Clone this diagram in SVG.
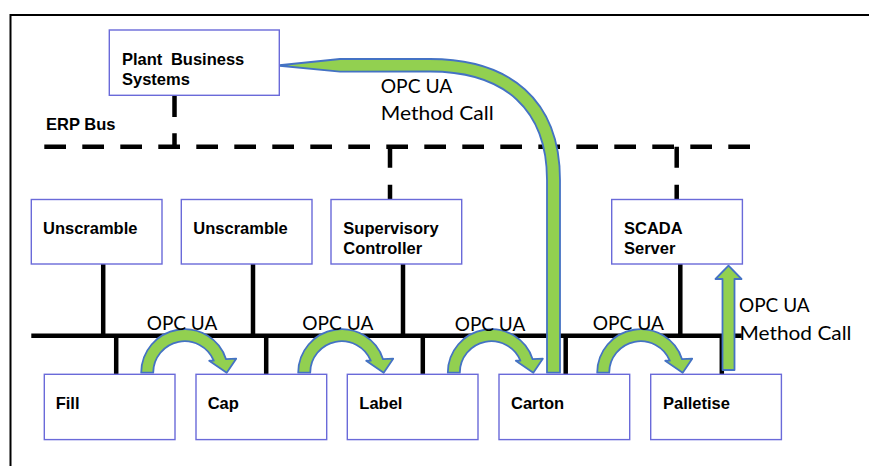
<svg xmlns="http://www.w3.org/2000/svg" width="869" height="466" viewBox="0 0 869 466">
  <style>
    .box { fill: #ffffff; stroke: #6a6ad9; stroke-width: 1.4; }
    .lbl { font-family: "Liberation Sans", Arial, sans-serif; font-weight: bold; font-size: 16.5px; fill: #000; }
    .opc { font-family: Lato, "Open Sans", sans-serif; font-size: 20px; fill: #000; }
    .bus { stroke: #000; stroke-width: 4.5; fill: none; }
    .dash { stroke: #000; stroke-width: 4.5; fill: none; stroke-dasharray: 21.7 16.3; }
    .green { fill: #92D050; stroke: #4472C4; stroke-width: 1.8; stroke-linejoin: round; }
  </style>
  <defs>
    <path id="arc" d="M -43.5,0 A 43.5 43.5 0 0 1 41.35,-13.5 L 51.5,-14 L 42,0 L 24.5,-12 L 29.1,-12 A 31.5 31.5 0 0 0 -31.5,0 Z"/>
  </defs>
  <rect width="869" height="466" fill="#ffffff"/>
  <g id="frame">
    <path d="M 10.5,480 L 10.5,15 L 880,15" fill="none" stroke="#000" stroke-width="2"/>
  </g>
  <g id="connectors">
    <line class="dash" x1="44.3" y1="146.7" x2="750.7" y2="146.7"/>
    <line class="dash" x1="174.5" y1="95.3" x2="174.5" y2="146.7"/>
    <line class="dash" x1="390" y1="146.7" x2="390" y2="199.5" style="stroke-dasharray:21 17"/>
    <line class="dash" x1="676.7" y1="146.7" x2="676.7" y2="199.5" style="stroke-dasharray:21 17"/>
    <line class="bus" x1="31.3" y1="335.7" x2="741.7" y2="335.7"/>
    <line class="bus" x1="103.2" y1="264" x2="103.2" y2="335.7"/>
    <line class="bus" x1="253" y1="264" x2="253" y2="335.7"/>
    <line class="bus" x1="403" y1="264" x2="403" y2="335.7"/>
    <line class="bus" x1="680.3" y1="264" x2="680.3" y2="335.7"/>
    <line class="bus" x1="116.2" y1="335.7" x2="116.2" y2="374.3"/>
    <line class="bus" x1="266.2" y1="335.7" x2="266.2" y2="374.3"/>
    <line class="bus" x1="422.8" y1="335.7" x2="422.8" y2="374.3"/>
    <line class="bus" x1="565.7" y1="335.7" x2="565.7" y2="374.3"/>
    <line class="bus" x1="721.8" y1="335.7" x2="721.8" y2="374.3"/>
    <use href="#arc" class="green" transform="translate(184.7,372.7)"/>
    <use href="#arc" class="green" transform="translate(341.7,372.7)"/>
    <use href="#arc" class="green" transform="translate(491.3,372.7)"/>
    <use href="#arc" class="green" transform="translate(640.7,372.7)"/>
    <path class="green" d="M 277,65.5 L 340,59 L 430,59 C 510,59 560,100 560,180 L 560,372.7 L 547,372.7 L 547,180 C 547,110 505,71.5 430,71.5 L 340,71.7 Z"/>
    <path class="green" d="M 722.5,370 L 722.5,279 L 715.5,279 L 728.5,265.7 L 741.5,279 L 734.5,279 L 734.5,370 Z"/>
    <text class="opc" x="146.7" y="330" textLength="70.6" lengthAdjust="spacingAndGlyphs">OPC UA</text>
    <text class="opc" x="302.3" y="330" textLength="71" lengthAdjust="spacingAndGlyphs">OPC UA</text>
    <text class="opc" x="454.7" y="330.5" textLength="70.6" lengthAdjust="spacingAndGlyphs">OPC UA</text>
    <text class="opc" x="592.7" y="329.5" textLength="71.3" lengthAdjust="spacingAndGlyphs">OPC UA</text>
    <text class="opc" x="739" y="311.7" textLength="70.7" lengthAdjust="spacingAndGlyphs">OPC UA</text>
    <text class="opc" x="739.5" y="340" textLength="112" lengthAdjust="spacingAndGlyphs">Method Call</text>
    <text class="opc" x="380.7" y="92.7" textLength="71.6" lengthAdjust="spacingAndGlyphs">OPC UA</text>
    <text class="opc" x="380.7" y="120" textLength="113" lengthAdjust="spacingAndGlyphs">Method Call</text>
  </g>
  <text class="lbl" x="46" y="130">ERP Bus</text>
  <g id="plant">
    <rect class="box" x="109.3" y="30" width="170" height="65.3"/>
    <text class="lbl" x="122" y="65" word-spacing="4">Plant Business</text>
    <text class="lbl" x="122" y="85">Systems</text>
  </g>
  <g id="unscramble1">
    <rect class="box" x="31.3" y="199.5" width="130.7" height="64.5"/>
    <text class="lbl" x="43" y="233.5">Unscramble</text>
  </g>
  <g id="unscramble2">
    <rect class="box" x="181.3" y="199.5" width="130.7" height="64.5"/>
    <text class="lbl" x="193.3" y="233.5">Unscramble</text>
  </g>
  <g id="supervisory">
    <rect class="box" x="331" y="199.5" width="130.7" height="64.5"/>
    <text class="lbl" x="343.3" y="233.5">Supervisory</text>
    <text class="lbl" x="343.3" y="254">Controller</text>
  </g>
  <g id="scada">
    <rect class="box" x="611.7" y="199.5" width="130.7" height="64.5"/>
    <text class="lbl" x="624" y="234">SCADA</text>
    <text class="lbl" x="624" y="254">Server</text>
  </g>
  <g id="fill">
    <rect class="box" x="44.3" y="374.3" width="130.7" height="65.3"/>
    <text class="lbl" x="55.7" y="409">Fill</text>
  </g>
  <g id="cap">
    <rect class="box" x="196" y="374.3" width="130.7" height="65.3"/>
    <text class="lbl" x="207.7" y="409">Cap</text>
  </g>
  <g id="label">
    <rect class="box" x="347.3" y="374.3" width="130.7" height="65.3"/>
    <text class="lbl" x="359.3" y="409">Label</text>
  </g>
  <g id="carton">
    <rect class="box" x="499" y="374.3" width="130.7" height="65.3"/>
    <text class="lbl" x="511" y="409">Carton</text>
  </g>
  <g id="palletise">
    <rect class="box" x="650.7" y="374.3" width="130.7" height="65.3"/>
    <text class="lbl" x="663" y="409">Palletise</text>
  </g>
</svg>
